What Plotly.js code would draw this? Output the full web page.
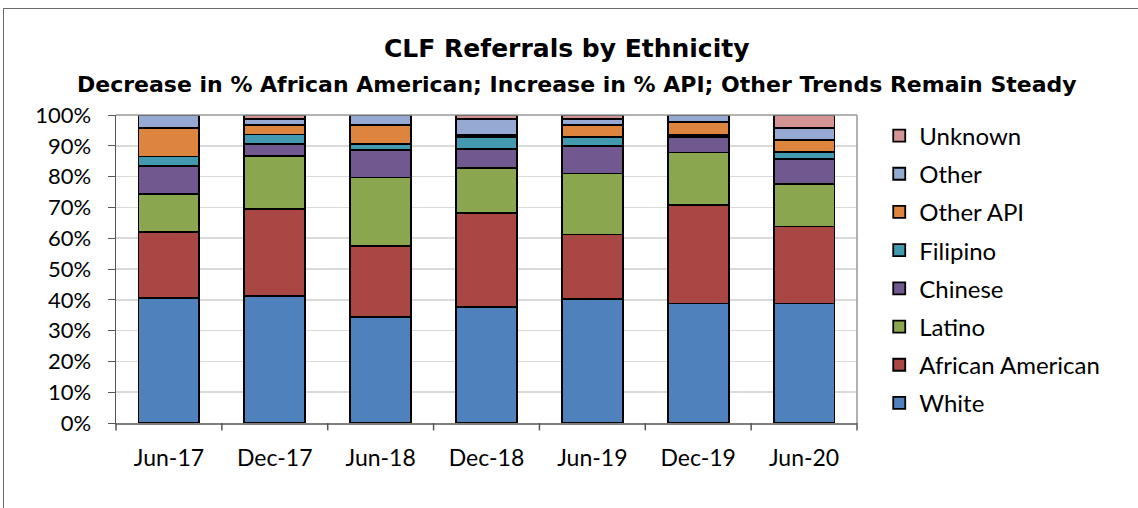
<!DOCTYPE html>
<html>
<head>
<meta charset="utf-8">
<script src="https://cdn.plot.ly/plotly-3.0.1.min.js"></script>
<style>
html,body{margin:0;padding:0;background:#fff;overflow:hidden;}
#wrap{position:relative;width:1138px;height:508px;overflow:hidden;}
#chart{position:absolute;left:0;top:0;width:1138px;height:508px;}
#frame{position:absolute;left:3px;top:8px;width:1200px;height:600px;border:1.5px solid #6b6b6b;pointer-events:none;}
</style>
</head>
<body>
<div id="wrap"><div id="chart"></div><div id="frame"></div></div>
<script>
const categories = ["Jun-17","Dec-17","Jun-18","Dec-18","Jun-19","Dec-19","Jun-20"];
const white     = [40.7, 41.2, 34.3, 37.6, 40.3, 38.8, 38.8];
const african   = [21.4, 28.3, 23.1, 30.5, 20.9, 32.1, 25.0];
const latino    = [12.2, 17.2, 22.3, 14.8, 19.8, 16.9, 13.9];
const chinese   = [9.2, 4.0, 8.9, 6.0, 8.9, 5.1, 8.1];
const filipino  = [3.0, 3.0, 2.0, 4.0, 3.0, 0.7, 2.1];
const otherAPI  = [9.3, 3.1, 6.2, 0.7, 3.9, 4.2, 4.0];
const other     = [4.2, 1.9, 3.2, 5.1, 1.9, 2.2, 4.0];
const unknown   = [0.0, 1.3, 0.0, 1.3, 1.3, 0.0, 4.1];
const seriesNames = ["White","African American","Latino","Chinese","Filipino","Other API","Other","Unknown"];
const seriesData = [white, african, latino, chinese, filipino, otherAPI, other, unknown];
const colors = ["#4F81BD","#A94745","#8AA64E","#71588F","#4399AF","#DD843F","#95A9D3","#D49494"];

const font = "Lato, 'Open Sans', sans-serif";
const tfont = "'DejaVu Sans', 'Open Sans', sans-serif";
const traces = seriesNames.map((n,i)=>({
  type:"bar", name:n, x:categories, y:seriesData[i],
  legendgroup:"g"+i, legendrank:(seriesNames.length - i) * 10,
  marker:{color:colors[i], line:{color:"#000", width:1.8}},
  hoverinfo:"name+y"
}));

const layout = {
  width:1138, height:508,
  margin:{l:116, r:281, t:115, b:85},
  paper_bgcolor:"rgba(0,0,0,0)", plot_bgcolor:"#fff",
  barmode:"stack", bargap:0.425,
  showlegend:true,
  legend:{x:1.03, y:1.005, xanchor:"left", yanchor:"top", traceorder:"grouped",
          font:{family:font, size:24, color:"#000"}, tracegroupgap:4,
          maxheight:420,
          itemwidth:20, bgcolor:"rgba(0,0,0,0)"},
  xaxis:{type:"category", showgrid:false, showline:true, linecolor:"#7f7f7f", linewidth:1.5,
         ticks:"", ticklabelstandoff:14, tickfont:{family:font, size:23, color:"#000"}, mirror:false},
  yaxis:{range:[0,100], dtick:10, ticksuffix:"%", showgrid:true, gridcolor:"#d9d9d9", gridwidth:1.5,
         showline:true, linecolor:"#555", linewidth:1.5, ticks:"outside", ticklen:7, tickcolor:"#555",
         ticklabelstandoff:12,
         tickfont:{family:font, size:22, color:"#000"}, zeroline:false},
  shapes:[
    {type:"line", xref:"paper", yref:"paper", x0:0, x1:1, y0:1, y1:1, line:{color:"#999", width:1.5}},
    {type:"line", xref:"paper", yref:"paper", x0:1, x1:1, y0:0, y1:1, line:{color:"#999", width:1.5}}
  ].concat([0,1,2,3,4,5,6,7].map(k=>({type:"line", xref:"paper", yref:"paper",
    x0:k/7, x1:k/7, y0:0, y1:-0.024, line:{color:"#555", width:1.5}}))),
  annotations:[
    {text:"<b>CLF Referrals by Ethnicity</b>", xref:"paper", yref:"paper", x:0.609, y:1.216,
     xanchor:"center", yanchor:"middle", showarrow:false, font:{family:tfont, size:25, color:"#000"}},
    {text:"<b>Decrease in % African American; Increase in % API; Other Trends Remain Steady</b>", xref:"paper", yref:"paper", x:0.6216, y:1.1005,
     xanchor:"center", yanchor:"middle", showarrow:false, font:{family:tfont, size:22, color:"#000"}}
  ]
};
Plotly.newPlot("chart", traces, layout, {displayModeBar:false, staticPlot:true});
</script>
</body>
</html>
